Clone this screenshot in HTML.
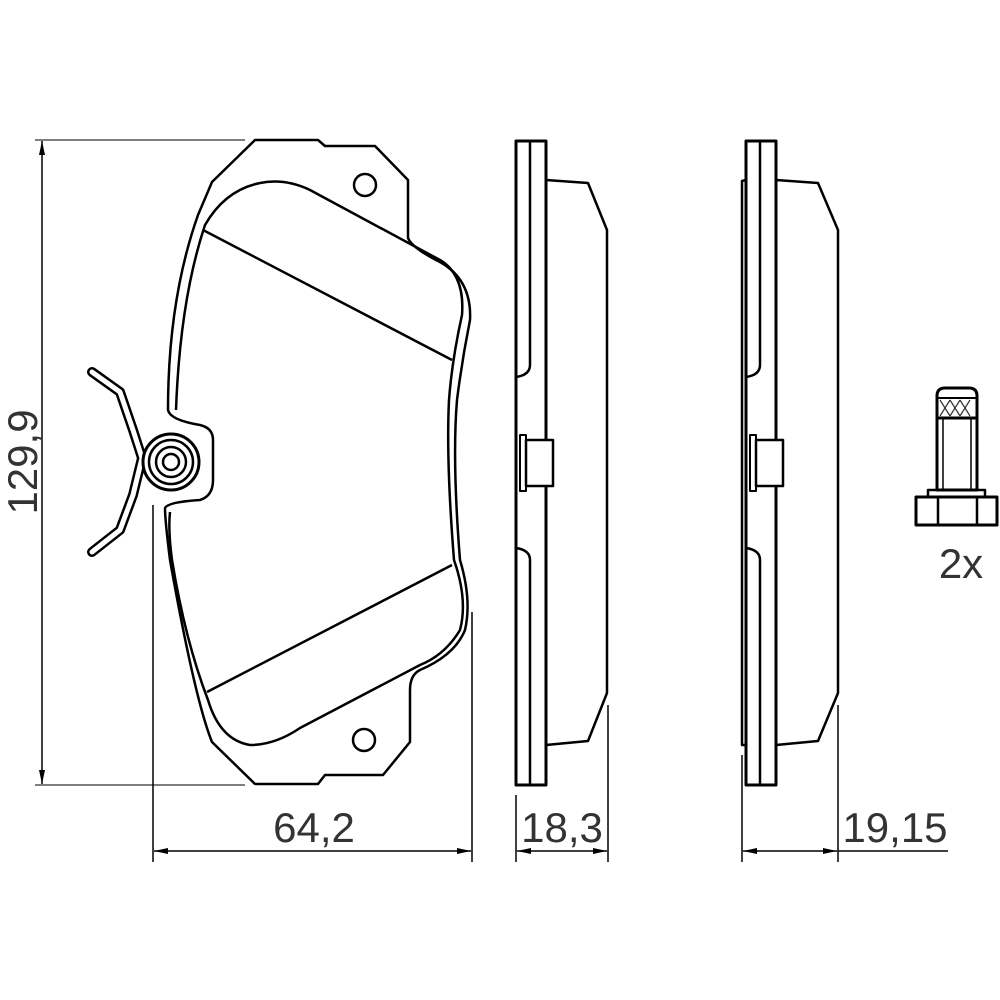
<!DOCTYPE html>
<html><head><style>
html,body{margin:0;padding:0;background:#fff;}
svg{display:block}
text{font-family:"Liberation Sans",sans-serif;fill:#333}
</style></head><body>
<svg width="1000" height="1000" viewBox="0 0 1000 1000" xmlns="http://www.w3.org/2000/svg">
<defs>
<marker id="a" markerWidth="14" markerHeight="8" refX="14" refY="4" orient="auto" markerUnits="userSpaceOnUse">
<path d="M0,1 L14,4 L0,7 Z" fill="#000"/></marker>
</defs>
<g fill="none" stroke="#000" stroke-linejoin="round">
<line x1="35" y1="140" x2="245" y2="140" stroke="#555" stroke-width="1.5"/>
<line x1="35" y1="785" x2="245" y2="785" stroke="#555" stroke-width="1.5"/>
<line x1="42" y1="462" x2="42" y2="141" stroke-width="1.5" marker-end="url(#a)"/>
<line x1="42" y1="462" x2="42" y2="784" stroke-width="1.5" marker-end="url(#a)"/>
<line x1="153" y1="505" x2="153" y2="862" stroke-width="1.5"/>
<line x1="472" y1="612" x2="472" y2="862" stroke-width="1.5"/>
<line x1="312" y1="851" x2="154" y2="851" stroke-width="1.5" marker-end="url(#a)"/>
<line x1="312" y1="851" x2="471" y2="851" stroke-width="1.5" marker-end="url(#a)"/>
<path d="M255,140 L318,140 L325,146 L375,146 L408,180 L408,238 Q412,248 440,262 Q472,280 470,320 Q462,360 457,400 Q452,460 460,560 Q472,600 465,630 Q455,655 420,670 Q410,675 410,690 L410,742 L383,775 L325,775 L318,784 L255,784 L212,742 Q195,700 170,560 Q165,520 165,508 Q168,502 200,500 Q213,496 213,480 L213,440 Q213,428 200,425 Q170,420 168,410 Q168,300 198,215 L212,182 Z" stroke-width="2.5"/>
<path d="M260,183 Q285,178 310,190 L440,260 Q465,275 462,315 Q452,360 449,400 Q446,460 454,560 Q468,600 460,630 Q445,655 420,665 L300,728 Q275,745 250,745 Q220,740 208,700 Q185,640 172,560 Q168,530 170,512" stroke-width="2.5"/>
<path d="M260,183 Q225,190 205,225 Q180,300 176,410" stroke-width="2.5"/>
<line x1="203" y1="230" x2="452" y2="360" stroke-width="2.5"/>
<line x1="207" y1="692" x2="452" y2="565" stroke-width="2.5"/>
<circle cx="365" cy="185" r="11" stroke-width="2.5"/>
<circle cx="364" cy="740" r="11" stroke-width="2.5"/>
<path d="M92,372 L120,392 L133,430 L142,458 L133,495 L120,530 L92,552" stroke-width="10" stroke-linecap="round"/>
<path d="M92,372 L120,392 L133,430 L142,458 L133,495 L120,530 L92,552" stroke="#fff" stroke-width="5" stroke-linecap="round"/>
<circle cx="171" cy="462" r="28" fill="#fff" stroke-width="3"/>
<circle cx="171" cy="462" r="22" stroke-width="2.5"/>
<circle cx="171" cy="462" r="15" stroke-width="2.5"/>
<circle cx="171" cy="462" r="8" stroke-width="2.5"/>
<rect x="516" y="141" width="30" height="644" stroke-width="3"/>
<path d="M530,141 L530,365 Q530,375 516,377" stroke-width="2.5"/>
<path d="M516,548 Q530,550 530,560 L530,785" stroke-width="2.5"/>
<path d="M546,180 L588,183 L607,230 L607,693 L588,741 L546,745" stroke-width="2.5"/>
<rect x="520" y="435" width="6" height="56" fill="#fff" stroke-width="2"/>
<rect x="526" y="440" width="27" height="46" fill="#fff" stroke-width="2.5"/>
<line x1="516" y1="795" x2="516" y2="862" stroke-width="1.5"/>
<line x1="608" y1="705" x2="608" y2="862" stroke-width="1.5"/>
<line x1="562" y1="851" x2="517" y2="851" stroke-width="1.5" marker-end="url(#a)"/>
<line x1="562" y1="851" x2="607" y2="851" stroke-width="1.5" marker-end="url(#a)"/>
<rect x="746" y="141" width="30" height="644" stroke-width="3"/>
<path d="M760,141 L760,365 Q760,375 746,377" stroke-width="2.5"/>
<path d="M746,548 Q760,550 760,560 L760,785" stroke-width="2.5"/>
<path d="M746,180 L742,181 L742,745 L746,745" stroke-width="2.5"/>
<path d="M776,180 L818,183 L838,230 L838,693 L818,741 L776,745" stroke-width="2.5"/>
<rect x="750" y="435" width="6" height="56" fill="#fff" stroke-width="2"/>
<rect x="756" y="440" width="27" height="46" fill="#fff" stroke-width="2.5"/>
<line x1="742" y1="755" x2="742" y2="862" stroke-width="1.5"/>
<line x1="838" y1="705" x2="838" y2="862" stroke-width="1.5"/>
<line x1="790" y1="851" x2="743" y2="851" stroke-width="1.5" marker-end="url(#a)"/>
<line x1="790" y1="851" x2="837" y2="851" stroke-width="1.5" marker-end="url(#a)"/>
<line x1="838" y1="851" x2="948" y2="851" stroke-width="1.5"/>
<path d="M937,418 L937,396 Q937,388 945,388 L969,388 Q977,388 977,396 L977,418" stroke-width="3"/>
<line x1="937" y1="398" x2="977" y2="398" stroke-width="2"/>
<path d="M940,400 L950,416 M950,400 L960,416 M960,400 L970,416 M940,416 L950,400 M950,416 L960,400 M960,416 L970,400" stroke-width="1.2" stroke="#333"/>
<rect x="937" y="418" width="40" height="72" stroke-width="3"/>
<line x1="943" y1="418" x2="943" y2="490" stroke-width="1.5"/>
<line x1="971" y1="418" x2="971" y2="490" stroke-width="1.5"/>
<rect x="928" y="490" width="57" height="7" stroke-width="2.5"/>
<rect x="916" y="497" width="81" height="28" stroke-width="3"/>
<line x1="938" y1="497" x2="938" y2="525" stroke-width="2.5"/>
<line x1="977" y1="497" x2="977" y2="525" stroke-width="2.5"/>
</g>
<text x="0" y="0" font-size="42" text-anchor="middle" transform="translate(37,462) rotate(-90)">129,9</text>
<text x="314" y="842" font-size="42" text-anchor="middle">64,2</text>
<text x="562" y="842" font-size="42" text-anchor="middle">18,3</text>
<text x="895" y="842" font-size="42" text-anchor="middle">19,15</text>
<text x="961" y="578" font-size="42" text-anchor="middle">2x</text>
</svg>
</body></html>
